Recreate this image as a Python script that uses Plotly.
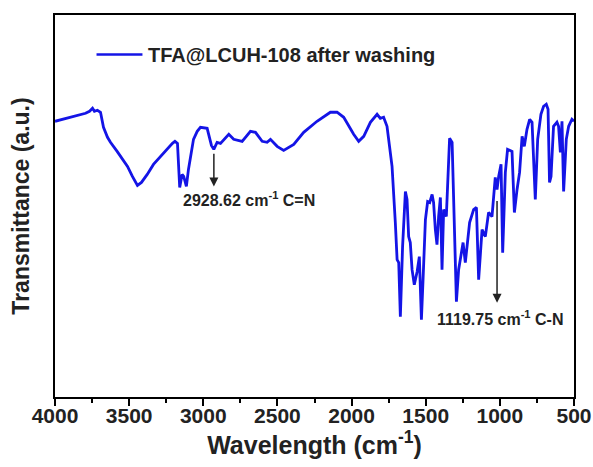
import plotly.graph_objects as go

# Wavenumber (cm^-1) and transmittance (a.u.)
wavenumber = [4000, 3949, 3896, 3842, 3794, 3767, 3747, 3734, 3714, 3693, 3673, 3646, 3626, 3581, 3545,
              3511, 3478, 3444, 3417, 3378, 3336, 3289, 3244, 3208, 3191, 3174, 3159, 3143, 3132, 3114,
              3100, 3087, 3066, 3041, 3019, 2974, 2957, 2945, 2929, 2907, 2884, 2862, 2828, 2795, 2738,
              2682, 2648, 2603, 2570, 2547, 2502, 2458, 2390, 2323, 2233, 2143, 2098, 2053, 1986, 1952,
              1918, 1873, 1828, 1806, 1784, 1761, 1750, 1727, 1705, 1693, 1682, 1671, 1656, 1637, 1626,
              1615, 1604, 1592, 1577, 1558, 1543, 1529, 1518, 1502, 1487, 1473, 1457, 1447, 1435, 1424,
              1413, 1401, 1390, 1379, 1361, 1339, 1322, 1307, 1293, 1278, 1248, 1233, 1204, 1177, 1158,
              1143, 1120, 1098, 1076, 1053, 1031, 1019, 1008, 992, 981, 963, 948, 918, 902, 884,
              867, 850, 835, 817, 799, 783, 772, 761, 745, 723, 705, 687, 675, 665, 655,
              638, 615, 604, 592, 581, 570, 552, 536, 514, 500]
transmittance = [275, 277, 279, 281, 283, 285, 288, 285, 286, 284, 269, 259, 254, 245, 237,
                 230, 220, 211, 214, 222, 232, 240, 247, 253, 255, 253, 209, 222, 220, 210,
                 227, 240, 257, 265, 269, 268, 257, 251, 247, 254, 253, 257, 262, 257, 255,
                 265, 264, 255, 254, 257, 250, 246, 252, 264, 275, 284, 284, 279, 262, 255,
                 260, 274, 282, 278, 279, 270, 257, 230, 174, 137, 134, 80, 150, 205, 197,
                 160, 154, 127, 112, 125, 140, 77, 117, 177, 195, 194, 202, 194, 167, 152,
                 180, 199, 127, 187, 180, 258, 254, 180, 95, 127, 154, 134, 174, 187, 189,
                 117, 167, 160, 184, 180, 219, 207, 220, 232, 144, 224, 247, 245, 184, 207,
                 224, 260, 250, 267, 277, 274, 240, 197, 257, 282, 290, 292, 287, 214, 220,
                 270, 274, 270, 244, 275, 205, 257, 270, 277, 275]

series_name = "TFA@LCUH-108 after washing"
x_ticks = [4000, 3500, 3000, 2500, 2000, 1500, 1000, 500]
x_minor_ticks = [3750, 3250, 2750, 2250, 1750, 1250, 750]
peak_labels = ["2928.62 cm<sup>-1</sup> C=N", "1119.75 cm<sup>-1</sup> C-N"]
arrow_x = [2928.62, 1019]
arrow_tail = [244, 197]
arrow_tip = [210, 94]
label_x = [2689, 997]
label_y = [197, 79]

FONT = "Liberation Sans, Arial, sans-serif"
BLUE = "#1414e6"
TXT = "#222"

fig = go.Figure()
fig.add_trace(go.Scatter(x=wavenumber, y=transmittance, mode="lines", name=series_name,
                         line=dict(color=BLUE, width=2.8), showlegend=False))

for i in range(2):
    fig.add_annotation(x=arrow_x[i], y=arrow_tip[i], ax=arrow_x[i], ay=arrow_tail[i],
                       xref="x", yref="y", axref="x", ayref="y", text="", showarrow=True,
                       arrowhead=2, arrowsize=1.2, arrowwidth=1.5, arrowcolor=TXT)
    fig.add_annotation(x=label_x[i], y=label_y[i], xref="x", yref="y", text=peak_labels[i],
                       showarrow=False, font=dict(family=FONT, size=16, color=TXT, weight="bold"))

# legend drawn inside the frame
fig.add_shape(type="line", xref="paper", yref="paper", x0=0.080, x1=0.1685, y0=0.8964, y1=0.8964,
              line=dict(color=BLUE, width=2.5))
fig.add_annotation(xref="paper", yref="paper", x=0.175, y=0.8964, xanchor="left", yanchor="middle",
                   text=series_name, showarrow=False,
                   font=dict(family=FONT, size=20, color=TXT, weight="bold"))

fig.update_layout(
    width=593, height=467,
    margin=dict(l=55, r=19, t=15, b=70),
    paper_bgcolor="white", plot_bgcolor="white",
    font=dict(family=FONT, color=TXT),
)
fig.update_xaxes(range=[4000, 500], tickmode="array", tickvals=x_ticks,
                 showline=True, mirror=True, linecolor="black", linewidth=2,
                 ticks="outside", ticklen=7, tickwidth=2, tickcolor="black",
                 ticklabelstandoff=-8,
                 minor=dict(tickmode="array", tickvals=x_minor_ticks, ticks="outside", ticklen=4,
                            tickwidth=1.5, tickcolor="black", showgrid=False),
                 showgrid=False, zeroline=False,
                 tickfont=dict(family=FONT, size=21, color=TXT, weight="bold"),
                 title=dict(text="Wavelength (cm<sup>-1</sup>)",
                            font=dict(family=FONT, size=25, color=TXT, weight="bold"),
                            standoff=0),
                 automargin=False)
fig.update_yaxes(range=[0, 381], showline=True, mirror=True, linecolor="black", linewidth=2,
                 ticks="", showticklabels=False, showgrid=False, zeroline=False,
                 title=dict(text="Transmittance (a.u.)",
                            font=dict(family=FONT, size=23, color=TXT, weight="bold"),
                            standoff=17),
                 automargin=False)

fig.write_html("out.html", config={"displayModeBar": False},
               post_script="document.body.style.margin='0';document.body.style.overflow='hidden';")
